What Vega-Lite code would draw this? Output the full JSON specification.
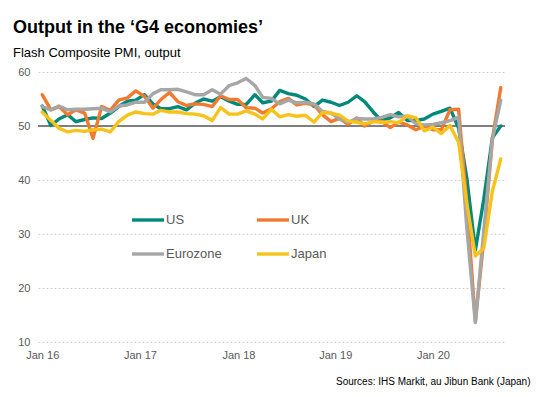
{
"$schema": "https://vega.github.io/schema/vega-lite/v6.json",
"width": 467, "height": 270,
"autosize": {"type": "none"},
"padding": {"left": 38, "top": 72, "right": 36, "bottom": 55},
"background": "white",
"title": {"text": "Output in the ‘G4 economies’", "subtitle": "Flash Composite PMI, output", "anchor": "start", "frame": "group", "dx": -25, "offset": 6, "font": "Liberation Sans", "fontSize": 18, "fontWeight": "bold", "color": "#000000", "subtitleFont": "Liberation Sans", "subtitleFontSize": 13, "subtitleColor": "#000000", "subtitlePadding": 10},
"config": {"view": {"stroke": null}, "font": "Liberation Sans"},
"data": {"values": [
{"s":"US","d":"2016-01","v":53.7},{"s":"US","d":"2016-02","v":50.1},{"s":"US","d":"2016-03","v":51.3},{"s":"US","d":"2016-04","v":52.1},{"s":"US","d":"2016-05","v":50.8},{"s":"US","d":"2016-06","v":51.2},{"s":"US","d":"2016-07","v":51.5},{"s":"US","d":"2016-08","v":51.4},{"s":"US","d":"2016-09","v":52.4},{"s":"US","d":"2016-10","v":53.6},{"s":"US","d":"2016-11","v":54.6},{"s":"US","d":"2016-12","v":54.8},
{"s":"US","d":"2017-01","v":55.8},{"s":"US","d":"2017-02","v":54.1},{"s":"US","d":"2017-03","v":53.2},{"s":"US","d":"2017-04","v":53.2},{"s":"US","d":"2017-05","v":53.6},{"s":"US","d":"2017-06","v":53.0},{"s":"US","d":"2017-07","v":54.2},{"s":"US","d":"2017-08","v":55.0},{"s":"US","d":"2017-09","v":54.6},{"s":"US","d":"2017-10","v":55.4},{"s":"US","d":"2017-11","v":54.6},{"s":"US","d":"2017-12","v":54.0},
{"s":"US","d":"2018-01","v":54.0},{"s":"US","d":"2018-02","v":55.8},{"s":"US","d":"2018-03","v":54.3},{"s":"US","d":"2018-04","v":54.6},{"s":"US","d":"2018-05","v":56.6},{"s":"US","d":"2018-06","v":56.0},{"s":"US","d":"2018-07","v":55.7},{"s":"US","d":"2018-08","v":55.0},{"s":"US","d":"2018-09","v":53.6},{"s":"US","d":"2018-10","v":54.8},{"s":"US","d":"2018-11","v":54.4},{"s":"US","d":"2018-12","v":53.8},
{"s":"US","d":"2019-01","v":54.4},{"s":"US","d":"2019-02","v":55.6},{"s":"US","d":"2019-03","v":54.5},{"s":"US","d":"2019-04","v":52.6},{"s":"US","d":"2019-05","v":51.0},{"s":"US","d":"2019-06","v":51.5},{"s":"US","d":"2019-07","v":52.5},{"s":"US","d":"2019-08","v":51.0},{"s":"US","d":"2019-09","v":51.0},{"s":"US","d":"2019-10","v":51.3},{"s":"US","d":"2019-11","v":52.2},{"s":"US","d":"2019-12","v":52.7},
{"s":"US","d":"2020-01","v":53.3},{"s":"US","d":"2020-02","v":49.6},{"s":"US","d":"2020-03","v":40.5},{"s":"US","d":"2020-04","v":27.0},{"s":"US","d":"2020-05","v":36.4},{"s":"US","d":"2020-06","v":47.8},{"s":"US","d":"2020-07","v":50.0},
{"s":"UK","d":"2016-01","v":55.8},{"s":"UK","d":"2016-02","v":53.0},{"s":"UK","d":"2016-03","v":53.6},{"s":"UK","d":"2016-04","v":52.1},{"s":"UK","d":"2016-05","v":53.0},{"s":"UK","d":"2016-06","v":52.4},{"s":"UK","d":"2016-07","v":47.7},{"s":"UK","d":"2016-08","v":53.6},{"s":"UK","d":"2016-09","v":52.9},{"s":"UK","d":"2016-10","v":54.8},{"s":"UK","d":"2016-11","v":55.2},{"s":"UK","d":"2016-12","v":56.5},
{"s":"UK","d":"2017-01","v":55.5},{"s":"UK","d":"2017-02","v":53.3},{"s":"UK","d":"2017-03","v":54.9},{"s":"UK","d":"2017-04","v":56.2},{"s":"UK","d":"2017-05","v":54.5},{"s":"UK","d":"2017-06","v":53.8},{"s":"UK","d":"2017-07","v":54.1},{"s":"UK","d":"2017-08","v":54.0},{"s":"UK","d":"2017-09","v":53.6},{"s":"UK","d":"2017-10","v":55.6},{"s":"UK","d":"2017-11","v":54.9},{"s":"UK","d":"2017-12","v":54.9},
{"s":"UK","d":"2018-01","v":53.4},{"s":"UK","d":"2018-02","v":53.3},{"s":"UK","d":"2018-03","v":52.4},{"s":"UK","d":"2018-04","v":53.2},{"s":"UK","d":"2018-05","v":54.5},{"s":"UK","d":"2018-06","v":55.1},{"s":"UK","d":"2018-07","v":53.9},{"s":"UK","d":"2018-08","v":54.2},{"s":"UK","d":"2018-09","v":53.9},{"s":"UK","d":"2018-10","v":52.1},{"s":"UK","d":"2018-11","v":50.8},{"s":"UK","d":"2018-12","v":51.4},
{"s":"UK","d":"2019-01","v":50.3},{"s":"UK","d":"2019-02","v":51.5},{"s":"UK","d":"2019-03","v":50.0},{"s":"UK","d":"2019-04","v":50.9},{"s":"UK","d":"2019-05","v":50.9},{"s":"UK","d":"2019-06","v":49.7},{"s":"UK","d":"2019-07","v":50.7},{"s":"UK","d":"2019-08","v":50.2},{"s":"UK","d":"2019-09","v":49.3},{"s":"UK","d":"2019-10","v":50.0},{"s":"UK","d":"2019-11","v":49.3},{"s":"UK","d":"2019-12","v":49.3},
{"s":"UK","d":"2020-01","v":53.0},{"s":"UK","d":"2020-02","v":53.1},{"s":"UK","d":"2020-03","v":36.0},{"s":"UK","d":"2020-04","v":13.8},{"s":"UK","d":"2020-05","v":28.9},{"s":"UK","d":"2020-06","v":47.6},{"s":"UK","d":"2020-07","v":57.1},
{"s":"Eurozone","d":"2016-01","v":53.6},{"s":"Eurozone","d":"2016-02","v":53.0},{"s":"Eurozone","d":"2016-03","v":53.7},{"s":"Eurozone","d":"2016-04","v":53.0},{"s":"Eurozone","d":"2016-05","v":53.1},{"s":"Eurozone","d":"2016-06","v":53.1},{"s":"Eurozone","d":"2016-07","v":53.2},{"s":"Eurozone","d":"2016-08","v":53.3},{"s":"Eurozone","d":"2016-09","v":52.6},{"s":"Eurozone","d":"2016-10","v":53.7},{"s":"Eurozone","d":"2016-11","v":53.9},{"s":"Eurozone","d":"2016-12","v":54.4},
{"s":"Eurozone","d":"2017-01","v":54.4},{"s":"Eurozone","d":"2017-02","v":56.0},{"s":"Eurozone","d":"2017-03","v":56.7},{"s":"Eurozone","d":"2017-04","v":56.7},{"s":"Eurozone","d":"2017-05","v":56.8},{"s":"Eurozone","d":"2017-06","v":56.3},{"s":"Eurozone","d":"2017-07","v":55.8},{"s":"Eurozone","d":"2017-08","v":55.8},{"s":"Eurozone","d":"2017-09","v":56.7},{"s":"Eurozone","d":"2017-10","v":55.9},{"s":"Eurozone","d":"2017-11","v":57.5},{"s":"Eurozone","d":"2017-12","v":58.0},
{"s":"Eurozone","d":"2018-01","v":58.8},{"s":"Eurozone","d":"2018-02","v":57.5},{"s":"Eurozone","d":"2018-03","v":55.3},{"s":"Eurozone","d":"2018-04","v":55.1},{"s":"Eurozone","d":"2018-05","v":54.1},{"s":"Eurozone","d":"2018-06","v":54.8},{"s":"Eurozone","d":"2018-07","v":54.3},{"s":"Eurozone","d":"2018-08","v":54.4},{"s":"Eurozone","d":"2018-09","v":54.1},{"s":"Eurozone","d":"2018-10","v":52.7},{"s":"Eurozone","d":"2018-11","v":52.4},{"s":"Eurozone","d":"2018-12","v":51.3},
{"s":"Eurozone","d":"2019-01","v":50.7},{"s":"Eurozone","d":"2019-02","v":51.4},{"s":"Eurozone","d":"2019-03","v":51.3},{"s":"Eurozone","d":"2019-04","v":51.3},{"s":"Eurozone","d":"2019-05","v":51.6},{"s":"Eurozone","d":"2019-06","v":52.1},{"s":"Eurozone","d":"2019-07","v":51.7},{"s":"Eurozone","d":"2019-08","v":51.8},{"s":"Eurozone","d":"2019-09","v":50.4},{"s":"Eurozone","d":"2019-10","v":50.2},{"s":"Eurozone","d":"2019-11","v":50.3},{"s":"Eurozone","d":"2019-12","v":50.6},
{"s":"Eurozone","d":"2020-01","v":51.0},{"s":"Eurozone","d":"2020-02","v":51.6},{"s":"Eurozone","d":"2020-03","v":31.4},{"s":"Eurozone","d":"2020-04","v":13.6},{"s":"Eurozone","d":"2020-05","v":30.5},{"s":"Eurozone","d":"2020-06","v":47.5},{"s":"Eurozone","d":"2020-07","v":54.8},
{"s":"Japan","d":"2016-01","v":52.6},{"s":"Japan","d":"2016-02","v":51.0},{"s":"Japan","d":"2016-03","v":49.6},{"s":"Japan","d":"2016-04","v":48.9},{"s":"Japan","d":"2016-05","v":49.2},{"s":"Japan","d":"2016-06","v":49.0},{"s":"Japan","d":"2016-07","v":49.3},{"s":"Japan","d":"2016-08","v":49.4},{"s":"Japan","d":"2016-09","v":48.9},{"s":"Japan","d":"2016-10","v":50.8},{"s":"Japan","d":"2016-11","v":52.0},{"s":"Japan","d":"2016-12","v":52.6},
{"s":"Japan","d":"2017-01","v":52.3},{"s":"Japan","d":"2017-02","v":52.2},{"s":"Japan","d":"2017-03","v":52.9},{"s":"Japan","d":"2017-04","v":52.6},{"s":"Japan","d":"2017-05","v":52.6},{"s":"Japan","d":"2017-06","v":52.3},{"s":"Japan","d":"2017-07","v":52.2},{"s":"Japan","d":"2017-08","v":51.9},{"s":"Japan","d":"2017-09","v":51.0},{"s":"Japan","d":"2017-10","v":53.4},{"s":"Japan","d":"2017-11","v":52.2},{"s":"Japan","d":"2017-12","v":52.2},
{"s":"Japan","d":"2018-01","v":52.8},{"s":"Japan","d":"2018-02","v":52.2},{"s":"Japan","d":"2018-03","v":51.3},{"s":"Japan","d":"2018-04","v":53.1},{"s":"Japan","d":"2018-05","v":51.7},{"s":"Japan","d":"2018-06","v":52.1},{"s":"Japan","d":"2018-07","v":51.8},{"s":"Japan","d":"2018-08","v":52.0},{"s":"Japan","d":"2018-09","v":50.7},{"s":"Japan","d":"2018-10","v":52.5},{"s":"Japan","d":"2018-11","v":52.4},{"s":"Japan","d":"2018-12","v":52.0},
{"s":"Japan","d":"2019-01","v":50.9},{"s":"Japan","d":"2019-02","v":50.7},{"s":"Japan","d":"2019-03","v":50.4},{"s":"Japan","d":"2019-04","v":50.8},{"s":"Japan","d":"2019-05","v":50.7},{"s":"Japan","d":"2019-06","v":50.8},{"s":"Japan","d":"2019-07","v":50.6},{"s":"Japan","d":"2019-08","v":51.9},{"s":"Japan","d":"2019-09","v":51.5},{"s":"Japan","d":"2019-10","v":49.1},{"s":"Japan","d":"2019-11","v":49.8},{"s":"Japan","d":"2019-12","v":48.6},
{"s":"Japan","d":"2020-01","v":50.1},{"s":"Japan","d":"2020-02","v":47.0},{"s":"Japan","d":"2020-03","v":35.8},{"s":"Japan","d":"2020-04","v":25.9},{"s":"Japan","d":"2020-05","v":27.4},{"s":"Japan","d":"2020-06","v":37.9},{"s":"Japan","d":"2020-07","v":43.9}
]},
"layer": [
{"mark": {"type": "rule", "color": "#7f7f7f", "strokeWidth": 1.5},
 "encoding": {"y": {"datum": 50, "type": "quantitative", "scale": {"domain": [10, 60], "nice": false, "zero": false}, "axis": {"title": null, "values": [10,20,30,40,50,60], "grid": true, "gridDash": [2,2], "gridColor": "#d0d0d0", "domain": false, "ticks": false, "labelColor": "#595959", "labelFontSize": 11, "labelPadding": 8, "labelFont": "Liberation Sans"}}}},
{"mark": {"type": "line", "strokeCap": "round", "strokeJoin": "round"},
 "encoding": {
  "x": {"field": "d", "type": "temporal", "scale": {"type": "utc", "padding": 4.25},
   "axis": {"values": [{"year": 2016, "month": 1, "date": 1, "utc": true}, {"year": 2016, "month": 12, "date": 16, "utc": true}, {"year": 2017, "month": 12, "date": 4, "utc": true}, {"year": 2018, "month": 11, "date": 16, "utc": true}, {"year": 2019, "month": 11, "date": 1, "utc": true}],
    "labelExpr": "'Jan ' + utcFormat(datum.value + 90 * 86400000, '%y')",
    "grid": false, "domain": false, "ticks": false, "labelColor": "#595959", "labelFontSize": 11, "labelPadding": 7, "labelFont": "Liberation Sans",
    "title": "Sources: IHS Markit, au Jibun Bank (Japan)", "titleFont": "Liberation Sans", "titleFontSize": 10, "titleFontWeight": "normal", "titleColor": "#000000", "titleAlign": "right", "titleAnchor": "end", "titleBaseline": "middle", "titleX": 492, "titleY": 39}},
  "y": {"field": "v", "type": "quantitative", "scale": {"domain": [10, 60], "nice": false, "zero": false}, "axis": {"title": null, "values": [10,20,30,40,50,60], "grid": true, "gridDash": [2,2], "gridColor": "#d0d0d0", "domain": false, "ticks": false, "labelColor": "#595959", "labelFontSize": 11, "labelPadding": 8, "labelFont": "Liberation Sans"}},
  "color": {"field": "s", "type": "ordinal", "scale": {"domain": ["US", "UK", "Eurozone", "Japan"], "range": ["#00897b", "#ee7b2f", "#a6a6a6", "#f7c21a"]},
   "legend": {"orient": "none", "legendX": 92, "legendY": 130, "columns": 2, "direction": "horizontal", "title": null, "symbolType": "stroke", "symbolSize": 1024, "labelFontSize": 13, "labelColor": "#595959", "labelFont": "Liberation Sans", "labelOffset": 0, "columnPadding": 28, "rowPadding": 9}},
  "strokeWidth": {"field": "s", "type": "ordinal", "scale": {"domain": ["US", "UK", "Eurozone", "Japan"], "range": [3.4, 3.4, 3, 1.8]},
   "legend": {"orient": "none", "legendX": 92, "legendY": 130, "columns": 2, "direction": "horizontal", "title": null, "symbolType": "stroke", "symbolSize": 1024, "labelFontSize": 13, "labelColor": "#595959", "labelFont": "Liberation Sans", "labelOffset": 0, "columnPadding": 28, "rowPadding": 9}}
 }}
]
}
